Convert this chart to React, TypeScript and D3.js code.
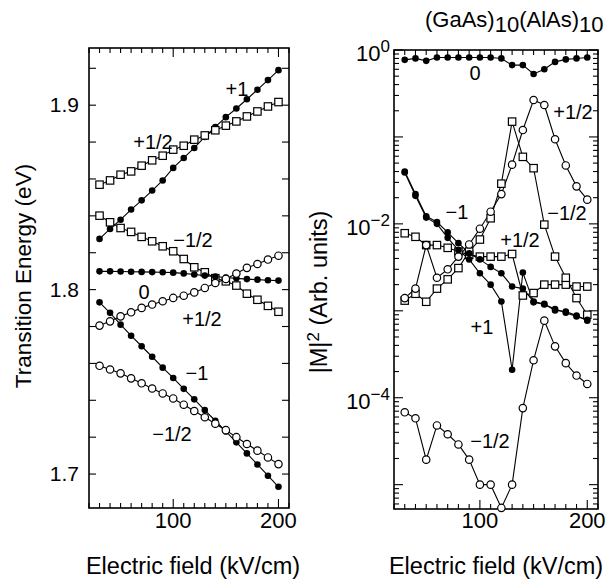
import React from 'react';
import * as d3 from 'd3';

// electric field samples (kV/cm)
const fields = [30, 40, 50, 60, 70, 80, 90, 100, 110, 120, 130, 140, 150, 160, 170, 180, 190, 200];

// left panel: transition energy (eV)
const ePlus1 = [1.8275, 1.8329, 1.8379, 1.8434, 1.8484, 1.8537, 1.8592, 1.8660, 1.8714, 1.8768, 1.8828, 1.8882, 1.8935, 1.8982, 1.9032, 1.9084, 1.9136, 1.9190];
const ePlusHalfSq = [1.8569, 1.8592, 1.8623, 1.8641, 1.8672, 1.8701, 1.8726, 1.8759, 1.8780, 1.8813, 1.8836, 1.8864, 1.8889, 1.8912, 1.8939, 1.8966, 1.8993, 1.9017];
const eMinusHalfSq = [1.8401, 1.8365, 1.8334, 1.8313, 1.8286, 1.8262, 1.8235, 1.8208, 1.8166, 1.8121, 1.8094, 1.8062, 1.8045, 1.8022, 1.7978, 1.7945, 1.7912, 1.7880];
const eZero = [1.8099, 1.8099, 1.8098, 1.8097, 1.8096, 1.8095, 1.8094, 1.8092, 1.8088, 1.8082, 1.8076, 1.8071, 1.8066, 1.8061, 1.8057, 1.8054, 1.8051, 1.8049];
const ePlusHalfCirc = [1.7805, 1.7828, 1.7855, 1.7877, 1.7901, 1.7919, 1.7937, 1.7955, 1.7967, 1.7985, 1.8009, 1.8036, 1.8058, 1.8087, 1.8118, 1.8139, 1.8163, 1.8184];
const eMinus1 = [1.7931, 1.7874, 1.7810, 1.7750, 1.7693, 1.7636, 1.7577, 1.7521, 1.7462, 1.7405, 1.7347, 1.7289, 1.7231, 1.7172, 1.7112, 1.7052, 1.6991, 1.6931];
const eMinusHalfCirc = [1.7587, 1.7567, 1.7546, 1.7519, 1.7492, 1.7464, 1.7437, 1.7410, 1.7376, 1.7342, 1.7308, 1.7273, 1.7238, 1.7200, 1.7163, 1.7127, 1.7090, 1.7054];

// right panel: |M|^2 (arb. units)
const mZero = [0.77, 0.80, 0.75, 0.82, 0.82, 0.82, 0.82, 0.82, 0.82, 0.80, 0.67, 0.67, 0.53, 0.60, 0.73, 0.78, 0.80, 0.82];
const mPlusHalfCirc = [0.0014, 0.0018, 0.0057, 0.0024, 0.0030, 0.0042, 0.0058, 0.0088, 0.0138, 0.022, 0.048, 0.12, 0.266, 0.233, 0.094, 0.047, 0.027, 0.019];
const mPlusHalfSq = [0.0078, 0.0071, 0.0057, 0.0057, 0.0053, 0.0048, 0.0044, 0.0042, 0.0042, 0.0042, 0.0045, 0.0015, 0.0016, 0.0020, 0.0020, 0.0020, 0.0019, 0.0019];
const mMinusHalfSq = [0.00131, 0.00157, 0.00127, 0.0018, 0.0023, 0.0031, 0.0048, 0.0066, 0.0116, 0.029, 0.15, 0.059, 0.0437, 0.0098, 0.0042, 0.0024, 0.0014, 0.0009];
const mMinus1 = [0.040, 0.022, 0.0122, 0.0105, 0.0080, 0.0060, 0.0046, 0.0039, 0.0032, 0.0027, 0.0019, 0.0018, 0.00128, 0.0012, 0.00101, 0.00098, 0.00088, 0.00077];
const mPlus1 = [0.039, 0.021, 0.0118, 0.0100, 0.0069, 0.0050, 0.0039, 0.0027, 0.0020, 0.00128, 0.00021, 0.00275, 0.00125, 0.00118, 0.00105, 0.00095, 0.00086, 0.00079];
const mMinusHalfCirc = [6.8e-5, 5.8e-5, 1.94e-5, 4.8e-5, 3.8e-5, 2.9e-5, 1.94e-5, 1.0e-5, 1.0e-5, 5.4e-6, 1.0e-5, 7.6e-5, 2.7e-4, 7.7e-4, 3.9e-4, 2.5e-4, 1.8e-4, 1.44e-4];

const leftSeries = [
  { values: ePlus1, marker: 'filled' },
  { values: ePlusHalfSq, marker: 'square' },
  { values: eMinusHalfSq, marker: 'square' },
  { values: eZero, marker: 'filled' },
  { values: ePlusHalfCirc, marker: 'open' },
  { values: eMinus1, marker: 'filled' },
  { values: eMinusHalfCirc, marker: 'open' },
];
const rightSeries = [
  { values: mZero, marker: 'filled' },
  { values: mPlusHalfSq, marker: 'square' },
  { values: mMinusHalfSq, marker: 'square' },
  { values: mPlusHalfCirc, marker: 'open' },
  { values: mMinusHalfCirc, marker: 'open' },
  { values: mMinus1, marker: 'filled' },
  { values: mPlus1, marker: 'filled' },
];

const leftLabels = [
  { text: '+1', x: 237, y: 96 },
  { text: '+1/2', x: 153, y: 149 },
  { text: '\u22121/2', x: 193, y: 247 },
  { text: '0', x: 144, y: 299 },
  { text: '+1/2', x: 202, y: 326 },
  { text: '\u22121', x: 197, y: 380 },
  { text: '\u22121/2', x: 172, y: 441 },
];
const rightLabels = [
  { text: '0', x: 475, y: 80 },
  { text: '+1/2', x: 573, y: 119 },
  { text: '\u22121', x: 457, y: 219 },
  { text: '\u22121/2', x: 567, y: 220 },
  { text: '+1/2', x: 520, y: 247 },
  { text: '+1', x: 482, y: 334 },
  { text: '\u22121/2', x: 490, y: 448 },
];

const FONT = '"Liberation Sans", Arial, Helvetica, sans-serif';

const Marker = ({ type, x, y }: { type: string; x: number; y: number }) => {
  if (type === 'filled') return <circle cx={x} cy={y} r={3.3} fill="#000" />;
  if (type === 'open') return <circle cx={x} cy={y} r={3.7} fill="#fff" stroke="#000" strokeWidth={1.2} />;
  return <rect x={x - 3.7} y={y - 3.7} width={7.4} height={7.4} fill="#fff" stroke="#000" strokeWidth={1.2} />;
};

const XTicks = ({ x, top, bottom }: { x: d3.ScaleLinear<number, number>; top: number; bottom: number }) => {
  const vals = d3.range(20, 211, 10);
  return (
    <g stroke="#000" strokeWidth={1.1}>
      {vals.map((v) => {
        const len = v % 100 === 0 ? 9 : 5;
        return (
          <g key={v}>
            <line x1={x(v)} x2={x(v)} y1={bottom} y2={bottom - len} />
            <line x1={x(v)} x2={x(v)} y1={top} y2={top + len} />
          </g>
        );
      })}
    </g>
  );
};

export default function App() {
  // left panel
  const lx = d3.scaleLinear().domain([20, 210]).range([89, 289]);
  const ly = d3.scaleLinear().domain([1.6816, 1.931]).range([508, 48]);
  // right panel
  const rx = d3.scaleLinear().domain([20, 210]).range([394, 598]);
  const ry = d3.scaleLog().domain([Math.pow(10, -5.28), 1]).range([509, 50]);

  const leftLine = (vals: number[]) =>
    d3.line<number>().x((_, i) => lx(fields[i])).y((d) => ly(d))(vals) || '';
  const rightLine = (vals: number[]) =>
    d3.line<number>().x((_, i) => rx(fields[i])).y((d) => ry(d))(vals) || '';

  const lyTicks = d3.range(1.70, 1.925, 0.02);
  const ryMajor = d3.range(-5, 1).map((e) => Math.pow(10, e));
  const ryMinor: number[] = [];
  d3.range(-6, 0).forEach((e) => {
    d3.range(2, 10).forEach((m) => {
      const v = m * Math.pow(10, e);
      if (v >= ry.domain()[0] && v <= 1) ryMinor.push(v);
    });
  });

  const [lt, lb] = [48, 508];
  const [rt, rb] = [50, 509];

  return (
    <svg width={614} height={581} style={{ position: 'absolute', left: 0, top: 0, background: '#fff' }} fontFamily={FONT}>
      <rect width={614} height={581} fill="#fff" />

      {/* ---- left panel ---- */}
      <rect x={89} y={lt} width={200} height={lb - lt} fill="none" stroke="#000" strokeWidth={1.6} />
      <XTicks x={lx} top={lt} bottom={lb} />
      <g stroke="#000" strokeWidth={1.1}>
        {lyTicks.map((v) => (
          <g key={v}>
            <line x1={89} x2={96} y1={ly(v)} y2={ly(v)} />
            <line x1={289} x2={282} y1={ly(v)} y2={ly(v)} />
          </g>
        ))}
      </g>
      {[1.7, 1.8, 1.9].map((v) => (
        <text key={v} x={79} y={ly(v) + 7} textAnchor="end" fontSize={21}>{v.toFixed(1)}</text>
      ))}
      {[100, 200].map((v) => (
        <text key={v} x={lx(v)} y={528} textAnchor="middle" fontSize={22}>{v}</text>
      ))}
      <text x={193} y={574} textAnchor="middle" fontSize={23.5}>Electric field (kV/cm)</text>
      <text transform="translate(31,276) rotate(-90)" textAnchor="middle" fontSize={22.5}>Transition Energy (eV)</text>

      {leftSeries.map((s, k) => (
        <path key={k} d={leftLine(s.values)} fill="none" stroke="#000" strokeWidth={1.1} />
      ))}
      {leftSeries.map((s, k) => (
        <g key={k}>
          {s.values.map((v, i) => <Marker key={i} type={s.marker} x={lx(fields[i])} y={ly(v)} />)}
        </g>
      ))}
      {leftLabels.map((l, i) => (
        <text key={i} x={l.x} y={l.y} textAnchor="middle" fontSize={20}>{l.text}</text>
      ))}

      {/* ---- right panel ---- */}
      <rect x={394} y={rt} width={204} height={rb - rt} fill="none" stroke="#000" strokeWidth={1.6} />
      <XTicks x={rx} top={rt} bottom={rb} />
      <g stroke="#000" strokeWidth={1.1}>
        {ryMajor.map((v) => (
          <g key={v}>
            <line x1={394} x2={403} y1={ry(v)} y2={ry(v)} />
            <line x1={598} x2={589} y1={ry(v)} y2={ry(v)} />
          </g>
        ))}
        {ryMinor.map((v) => (
          <g key={v}>
            <line x1={394} x2={399} y1={ry(v)} y2={ry(v)} />
            <line x1={598} x2={593} y1={ry(v)} y2={ry(v)} />
          </g>
        ))}
      </g>
      {[0, -2, -4].map((e) => (
        <text key={e} x={390} y={ry(Math.pow(10, e)) + 11} textAnchor="end" fontSize={22}>
          10<tspan dy={-9} fontSize={17}>{e === 0 ? '0' : `\u2212${-e}`}</tspan>
        </text>
      ))}
      {[100, 200].map((v) => (
        <text key={v} x={rx(v)} y={528} textAnchor="middle" fontSize={22}>{v}</text>
      ))}
      <text x={496} y={574} textAnchor="middle" fontSize={23.5}>Electric field (kV/cm)</text>
      <text transform="translate(327,292) rotate(-90)" textAnchor="middle" fontSize={23.5}>
        |M|<tspan dy={-8} fontSize={17}>2</tspan><tspan dy={8}> (Arb. units)</tspan>
      </text>

      {rightSeries.map((s, k) => (
        <path key={k} d={rightLine(s.values)} fill="none" stroke="#000" strokeWidth={1.1} />
      ))}
      {rightSeries.map((s, k) => (
        <g key={k}>
          {s.values.map((v, i) => <Marker key={i} type={s.marker} x={rx(fields[i])} y={ry(v)} />)}
        </g>
      ))}
      {rightLabels.map((l, i) => (
        <text key={i} x={l.x} y={l.y} textAnchor="middle" fontSize={20}>{l.text}</text>
      ))}

      <text x={425} y={27} fontSize={22}>
        (GaAs)<tspan dy={5}>10</tspan><tspan dy={-5}>(AlAs)</tspan><tspan dy={5}>10</tspan>
      </text>
    </svg>
  );
}
